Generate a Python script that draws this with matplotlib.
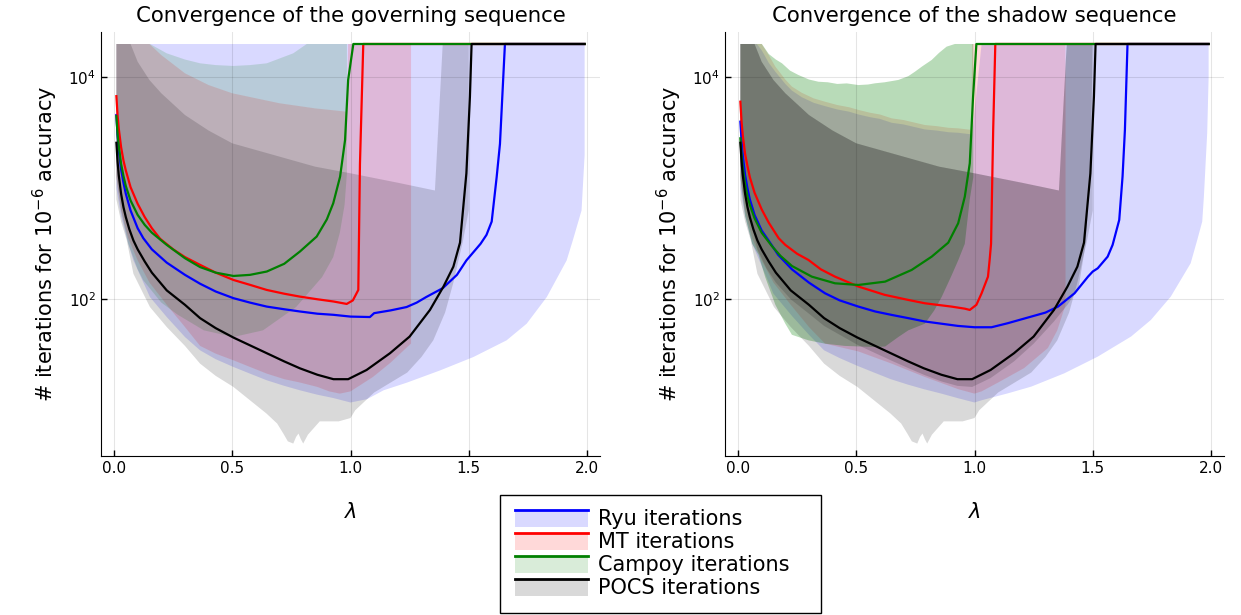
import numpy as np
import matplotlib
matplotlib.use('Agg')
import matplotlib.pyplot as plt
from matplotlib.legend_handler import HandlerBase
from matplotlib.lines import Line2D
from matplotlib.patches import Rectangle
from matplotlib.ticker import NullLocator

plt.rcParams['mathtext.fontset'] = 'dejavusans'

# all iteration values are log10(# iterations)
# ---------------- governing sequence (left) ----------------
ryu_g_x = [0.01,0.015,0.02,0.03,0.04,0.05,0.07,0.1,0.124,0.16,0.223,0.3,0.364,0.43,0.505,0.575,0.646,0.72,0.786,0.86,0.928,1.0,1.082,1.1,1.17,1.237,1.28,1.32,1.39,1.45,1.49,1.55,1.575,1.597,1.618,1.632,1.642,1.653,1.99]
ryu_g_y = [3.66,3.48,3.35,3.17,3.05,2.95,2.8,2.64,2.55,2.45,2.33,2.22,2.14,2.07,2.01,1.97,1.934,1.91,1.89,1.87,1.86,1.844,1.84,1.875,1.90,1.93,1.97,2.02,2.10,2.22,2.35,2.50,2.58,2.70,3.10,3.40,3.83,4.30,4.30]
mt_g_x = [0.01,0.015,0.02,0.03,0.04,0.05,0.07,0.1,0.13,0.16,0.195,0.25,0.3,0.364,0.43,0.505,0.575,0.646,0.72,0.786,0.86,0.928,0.984,1.01,1.033,1.04,1.054,1.99]
mt_g_y = [3.83,3.66,3.54,3.37,3.25,3.16,3.01,2.86,2.74,2.64,2.545,2.45,2.38,2.31,2.24,2.174,2.13,2.084,2.05,2.024,2.0,1.98,1.958,1.99,2.084,3.22,4.30,4.30]
cam_g_x = [0.01,0.015,0.02,0.03,0.04,0.05,0.07,0.1,0.13,0.16,0.223,0.3,0.364,0.43,0.505,0.575,0.646,0.72,0.786,0.857,0.9,0.927,0.956,0.977,0.99,1.012,1.99]
cam_g_y = [3.65,3.49,3.38,3.22,3.11,3.02,2.89,2.76,2.67,2.6,2.49,2.37,2.29,2.24,2.21,2.22,2.25,2.32,2.43,2.565,2.72,2.865,3.105,3.435,3.976,4.30,4.30]

ryu_g_lo_x = [0.01,0.03,0.06,0.082,0.152,0.223,0.3,0.364,0.43,0.505,0.575,0.646,0.72,0.786,0.86,0.928,1.0,1.07,1.14,1.24,1.38,1.52,1.66,1.745,1.83,1.914,1.94,1.977,1.99]
ryu_g_lo = [3.0,2.75,2.5,2.35,2.02,1.84,1.66,1.54,1.46,1.39,1.33,1.27,1.22,1.18,1.14,1.11,1.07,1.10,1.18,1.25,1.36,1.48,1.63,1.78,2.02,2.35,2.53,2.80,3.3]
ryu_g_hi_x = [0.01,1.99]
ryu_g_hi = [4.30,4.30]
mt_g_lo_x = [0.01,0.03,0.06,0.1,0.15,0.223,0.3,0.364,0.43,0.505,0.575,0.646,0.72,0.786,0.86,0.91,0.955,1.0,1.095,1.17,1.24,1.256]
mt_g_lo = [3.1,2.8,2.55,2.35,2.15,1.95,1.75,1.58,1.51,1.45,1.39,1.33,1.28,1.25,1.21,1.17,1.15,1.17,1.30,1.43,1.57,1.6]
mt_g_hi_x = [0.01,0.15,0.2,0.3,0.4,0.5,0.7,0.85,0.985,0.99,1.256]
mt_g_hi = [4.30,4.30,4.2,4.036,3.93,3.856,3.766,3.72,3.69,4.30,4.30]
cam_g_lo_x = [0.01,0.03,0.06,0.1,0.124,0.2,0.27,0.38,0.505,0.63,0.77,0.88,0.927,0.955,0.975,0.985]
cam_g_lo = [3.1,2.8,2.5,2.27,2.17,1.97,1.86,1.72,1.66,1.72,1.93,2.2,2.38,2.6,2.85,3.14]
cam_g_hi_x = [0.01,0.152,0.223,0.3,0.364,0.43,0.505,0.575,0.646,0.758,0.815,0.985]
cam_g_hi = [4.30,4.30,4.216,4.16,4.126,4.11,4.102,4.11,4.126,4.216,4.30,4.30]

# POCS is the same for both sequences
pocs_x = [0.01,0.015,0.02,0.03,0.04,0.05,0.065,0.082,0.1,0.13,0.16,0.223,0.3,0.364,0.43,0.505,0.575,0.646,0.72,0.786,0.86,0.928,0.99,1.068,1.167,1.25,1.336,1.393,1.435,1.463,1.49,1.505,1.512,1.99]
pocs_y = [3.41,3.24,3.12,2.95,2.83,2.74,2.63,2.53,2.45,2.34,2.24,2.08,1.95,1.83,1.74,1.655,1.585,1.514,1.44,1.378,1.32,1.28,1.28,1.363,1.514,1.664,1.904,2.114,2.294,2.51,3.135,3.826,4.30,4.30]
pocs_lo_x = [0.01,0.03,0.054,0.082,0.152,0.223,0.3,0.364,0.43,0.505,0.575,0.645,0.69,0.716,0.735,0.758,0.77,0.78,0.79,0.80,0.82,0.87,0.95,1.0,1.02,1.05,1.10,1.17,1.24,1.30,1.35,1.40,1.435,1.476,1.50]
pocs_lo = [2.9,2.7,2.53,2.23,1.93,1.75,1.58,1.42,1.31,1.21,1.09,0.97,0.88,0.79,0.72,0.70,0.76,0.79,0.74,0.70,0.78,0.90,0.90,0.93,1.0,1.06,1.16,1.25,1.34,1.48,1.63,1.88,2.15,2.53,2.8]
pocs_hi_x = [0.01,0.07,0.1,0.15,0.2,0.3,0.4,0.5,0.7,0.85,1.0,1.2,1.357,1.39,1.50]
pocs_hi = [4.30,4.30,4.14,3.975,3.856,3.66,3.52,3.405,3.285,3.195,3.135,3.05,2.98,4.30,4.30]

# ---------------- shadow sequence (right) ----------------
ryu_s_x = [0.01,0.015,0.02,0.03,0.04,0.05,0.07,0.1,0.129,0.17,0.228,0.3,0.368,0.43,0.509,0.58,0.65,0.72,0.79,0.86,0.93,1.0,1.072,1.14,1.24,1.30,1.353,1.423,1.48,1.50,1.521,1.563,1.584,1.612,1.626,1.636,1.647,1.99]
ryu_s_y = [3.6,3.43,3.3,3.12,3.0,2.9,2.76,2.62,2.53,2.4,2.27,2.15,2.054,1.99,1.934,1.89,1.859,1.83,1.80,1.78,1.76,1.748,1.748,1.784,1.844,1.88,1.934,2.054,2.204,2.25,2.279,2.384,2.49,2.715,3.105,3.525,4.30,4.30]
mt_s_x = [0.01,0.015,0.02,0.03,0.04,0.05,0.07,0.1,0.13,0.172,0.2,0.25,0.298,0.35,0.41,0.51,0.62,0.72,0.79,0.903,0.96,0.98,1.008,1.03,1.057,1.064,1.07,1.079,1.088,1.99]
mt_s_y = [3.78,3.6,3.48,3.31,3.2,3.1,2.96,2.81,2.69,2.55,2.49,2.41,2.354,2.27,2.204,2.114,2.04,1.994,1.964,1.934,1.915,1.904,1.95,2.054,2.204,2.354,2.50,3.525,4.30,4.30]
cam_s_x = [0.01,0.015,0.02,0.03,0.04,0.05,0.07,0.1,0.143,0.18,0.228,0.312,0.41,0.509,0.622,0.734,0.819,0.889,0.931,0.959,0.98,0.994,1.008,1.99]
cam_s_y = [3.45,3.3,3.19,3.04,2.93,2.85,2.73,2.6,2.48,2.39,2.3,2.204,2.144,2.129,2.159,2.264,2.384,2.51,2.685,2.925,3.225,3.826,4.30,4.30]

ryu_s_lo_x = [0.01,0.03,0.06,0.1,0.15,0.228,0.3,0.364,0.43,0.505,0.575,0.646,0.72,0.786,0.86,0.928,1.0,1.03,1.142,1.24,1.38,1.521,1.662,1.746,1.83,1.914,1.942,1.963,1.97,1.984,1.99]
ryu_s_lo = [3.0,2.75,2.5,2.3,2.05,1.85,1.68,1.54,1.47,1.40,1.34,1.28,1.23,1.19,1.15,1.11,1.07,1.09,1.153,1.213,1.333,1.483,1.664,1.814,2.024,2.324,2.535,2.7,2.925,3.5,4.0]
ryu_s_hi_x = [0.01,0.08,0.101,0.13,0.158,0.2,0.228,0.27,0.32,0.368,0.42,0.47,0.509,0.56,0.6,0.65,0.7,0.75,0.79,0.84,0.89,0.931,0.99,1.03,1.99]
ryu_s_hi = [4.30,4.30,4.24,4.13,4.05,3.94,3.88,3.82,3.77,3.74,3.71,3.69,3.665,3.64,3.625,3.59,3.575,3.55,3.53,3.52,3.505,3.50,3.485,4.30,4.30]
mt_s_lo_x = [0.01,0.03,0.06,0.1,0.15,0.223,0.3,0.368,0.509,0.65,0.79,0.931,1.0,1.03,1.1,1.21,1.31,1.35,1.385]
mt_s_lo = [3.1,2.8,2.55,2.35,2.15,1.95,1.75,1.6,1.53,1.42,1.30,1.19,1.15,1.17,1.25,1.38,1.56,1.72,1.95]
mt_s_hi_x = [0.01,0.1,0.13,0.158,0.2,0.228,0.27,0.32,0.368,0.42,0.47,0.509,0.56,0.6,0.65,0.7,0.75,0.79,0.84,0.89,0.931,0.987,0.99,1.385]
mt_s_hi = [4.30,4.30,4.2,4.096,3.98,3.916,3.86,3.81,3.78,3.75,3.73,3.706,3.68,3.665,3.63,3.615,3.59,3.57,3.56,3.545,3.54,3.526,4.30,4.30]
cam_s_lo_x = [0.01,0.03,0.06,0.087,0.115,0.158,0.2,0.228,0.298,0.368,0.45,0.509,0.58,0.622,0.678,0.72,0.79,0.83,0.861,0.9,0.931,0.959,0.98,0.995]
cam_s_lo = [3.1,2.75,2.5,2.4,2.2,1.95,1.78,1.68,1.63,1.60,1.58,1.575,1.57,1.574,1.66,1.72,1.78,1.9,2.02,2.2,2.35,2.5,2.9,3.1]
cam_s_hi_x = [0.01,0.101,0.13,0.16,0.186,0.22,0.256,0.3,0.34,0.38,0.42,0.46,0.509,0.55,0.58,0.62,0.678,0.72,0.748,0.78,0.819,0.85,0.882,0.917,0.995]
cam_s_hi = [4.30,4.30,4.21,4.16,4.126,4.06,4.02,3.98,3.96,3.955,3.94,3.945,3.93,3.935,3.946,3.955,3.976,4.01,4.05,4.10,4.156,4.22,4.276,4.30,4.30]
pocs_s2_lo_x = [0.01,0.03,0.06,0.082,0.12,0.16,0.223,0.3,0.364,0.43,0.505,0.575,0.646,0.72,0.786,0.86,0.928,0.99,1.068,1.167,1.25,1.336,1.393,1.44,1.47,1.49,1.50]
pocs_s2_lo = [3.2,2.95,2.65,2.45,2.28,2.15,2.0,1.87,1.76,1.68,1.59,1.52,1.45,1.38,1.32,1.26,1.22,1.21,1.29,1.44,1.6,1.80,1.95,2.1,2.5,3.2,4.3]

labels = ['Ryu iterations', 'MT iterations', 'Campoy iterations', 'POCS iterations']
colors = ['#0000ff', '#ff0000', '#008000', '#000000']


def band(ax, xlo, lo, xhi, hi, color, alpha=0.15):
    xs = np.concatenate([xlo, xhi[::-1]])
    ys = 10.0 ** np.concatenate([lo, hi[::-1]])
    ax.fill(xs, ys, color=color, alpha=alpha, lw=0)


def curve(ax, x, y, color):
    return ax.plot(x, 10.0 ** np.array(y), color=color, lw=1.6)[0]


class BandLegend(HandlerBase):
    def create_artists(self, legend, orig_handle, xdescent, ydescent,
                       width, height, fontsize, trans):
        c = orig_handle.get_color()
        r = Rectangle((-xdescent, -ydescent), width, height, facecolor=c,
                      alpha=0.15, edgecolor='none', transform=trans)
        l = Line2D([-xdescent, -xdescent + width], [-ydescent + height] * 2,
                   color=c, lw=2, transform=trans)
        return [r, l]


fig = plt.figure(figsize=(12.41, 6.15), dpi=100)
axL = fig.add_axes([101/1241, 1-456/615, 499/1241, 424/615])
axR = fig.add_axes([725/1241, 1-456/615, 499/1241, 424/615])

# left: governing sequence
band(axL, ryu_g_lo_x, ryu_g_lo, ryu_g_hi_x, ryu_g_hi, colors[0])
h1 = curve(axL, ryu_g_x, ryu_g_y, colors[0])
band(axL, mt_g_lo_x, mt_g_lo, mt_g_hi_x, mt_g_hi, colors[1])
h2 = curve(axL, mt_g_x, mt_g_y, colors[1])
band(axL, cam_g_lo_x, cam_g_lo, cam_g_hi_x, cam_g_hi, colors[2])
h3 = curve(axL, cam_g_x, cam_g_y, colors[2])
band(axL, pocs_lo_x, pocs_lo, pocs_hi_x, pocs_hi, colors[3])
h4 = curve(axL, pocs_x, pocs_y, colors[3])

# right: shadow sequence
band(axR, ryu_s_lo_x, ryu_s_lo, ryu_s_hi_x, ryu_s_hi, colors[0])
curve(axR, ryu_s_x, ryu_s_y, colors[0])
band(axR, mt_s_lo_x, mt_s_lo, mt_s_hi_x, mt_s_hi, colors[1])
curve(axR, mt_s_x, mt_s_y, colors[1])
band(axR, cam_s_lo_x, cam_s_lo, cam_s_hi_x, cam_s_hi, colors[2], alpha=0.28)
curve(axR, cam_s_x, cam_s_y, colors[2])
band(axR, pocs_lo_x, pocs_lo, pocs_hi_x, pocs_hi, colors[3])
band(axR, pocs_s2_lo_x, pocs_s2_lo, pocs_hi_x, pocs_hi, colors[3])
curve(axR, pocs_x, pocs_y, colors[3])

titles = ['Convergence of the governing sequence', 'Convergence of the shadow sequence']
for ax, t in zip([axL, axR], titles):
    ax.set_yscale('log')
    ax.set_xlim(-0.055, 2.055)
    ax.set_ylim(10 ** 0.588, 10 ** 4.408)
    ax.set_xticks([0, 0.5, 1.0, 1.5, 2.0])
    ax.set_xticklabels(['0.0', '0.5', '1.0', '1.5', '2.0'])
    ax.set_yticks([1e2, 1e4])
    ax.set_yticklabels([r'$10^2$', r'$10^4$'])
    ax.yaxis.set_minor_locator(NullLocator())
    ax.tick_params(direction='in', length=4, labelsize=11, width=1)
    ax.grid(True, color='black', alpha=0.1, lw=0.8)
    ax.spines['top'].set_visible(False)
    ax.spines['right'].set_visible(False)
    ax.set_title(t, fontsize=15.3, pad=7)
    ax.set_xlabel(r'$\lambda$', fontsize=15, labelpad=19)
    ax.set_ylabel(r'# iterations for $10^{-6}$ accuracy', fontsize=15, labelpad=6)

fig.legend([h1, h2, h3, h4], labels, handler_map={Line2D: BandLegend()},
           loc='lower left', bbox_to_anchor=(500/1241, 2/615, 321/1241, 118/615),
           mode='expand', fontsize=15, fancybox=False, edgecolor='black',
           framealpha=1, handlelength=3.5, handleheight=0.9, labelspacing=0.145,
           borderpad=0.7, handletextpad=0.5, borderaxespad=0)

fig.savefig('out.png', dpi=100)
